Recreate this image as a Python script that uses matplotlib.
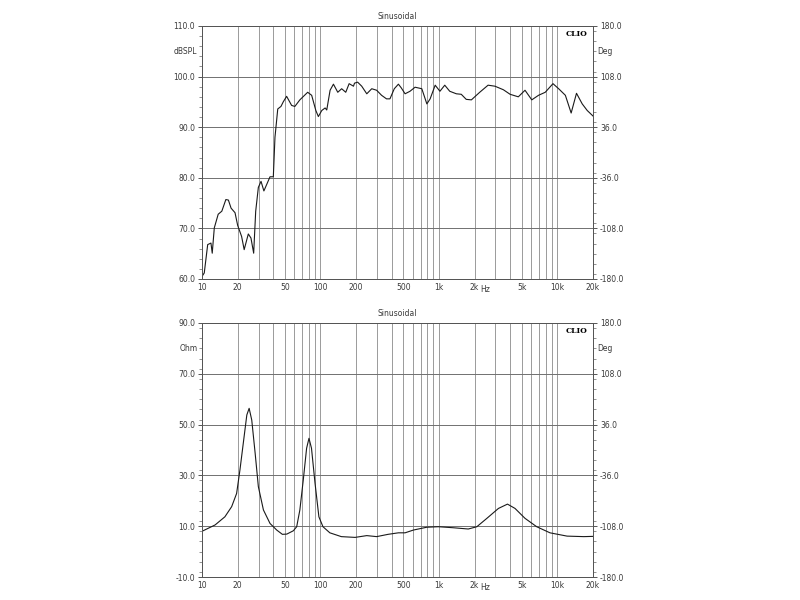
import matplotlib
matplotlib.use("Agg")
import matplotlib.pyplot as plt
from matplotlib.ticker import FixedLocator, NullFormatter, MultipleLocator
import matplotlib.transforms as mtransforms

# ---- data -----------------------------------------------------------------
spl_freq = [10, 10.45, 11.17, 11.9, 12.2, 12.7, 13.7, 14.7, 15.9, 16.7, 17.6, 19.0,
            20.0, 21.6, 22.7, 24.6, 25.9, 27.3, 28.4, 29.9, 31.5, 33.3, 35.2, 37.5,
            40.0, 41.3, 43.6, 46.4, 48.5, 51.8, 57.1, 60.8, 67, 78, 84.3, 91.4, 96,
            102.6, 109.5, 113, 120.6, 128.7, 140, 151, 163.5, 174.6, 190, 193.8, 206,
            223, 246, 271, 298, 328, 361, 386, 420, 455, 480, 518, 570, 629, 717, 791,
            843, 930, 1020, 1120, 1234, 1403, 1544, 1700, 1880, 2210, 2600, 2970, 3500,
            3990, 4680, 5330, 6080, 6930, 7900, 9180, 10250, 11680, 13070, 14500, 16210,
            17860, 20000]
spl_db = [60.5, 61.2, 66.8, 67.1, 65.1, 70.1, 72.8, 73.4, 75.7, 75.6, 74.0, 73.1,
          70.6, 68.4, 65.8, 68.9, 68.1, 65.1, 73.4, 78.1, 79.3, 77.4, 78.7, 80.2,
          80.2, 88.0, 93.6, 94.1, 95.0, 96.1, 94.3, 94.1, 95.4, 96.9, 96.3, 93.3, 92.1,
          93.3, 93.8, 93.4, 97.3, 98.5, 96.9, 97.6, 96.9, 98.6, 98.1, 98.7, 98.9,
          98.1, 96.6, 97.6, 97.3, 96.3, 95.6, 95.6, 97.6, 98.5, 97.8, 96.6, 97.1, 97.9, 97.6, 94.6,
          95.6, 98.3, 97.1, 98.3, 97.1, 96.6, 96.5, 95.5, 95.4, 96.9, 98.3, 98.1, 97.4,
          96.5, 96.0, 97.3, 95.4, 96.3, 96.9, 98.6, 97.6, 96.3, 92.8, 96.7, 94.6,
          93.3, 92.2]

imp_freq = [10, 12.9, 15.6, 17.8, 19.6, 20.9, 22.3, 23.9, 25, 26.3, 28.1, 29.9, 33,
            37.5, 42.7, 47.7, 52, 59, 63, 67, 71.6, 76.4, 80, 84, 90, 97, 105, 120,
            150, 196, 246, 298, 372, 455, 518, 610, 790, 990, 1320, 1770, 2090, 2540,
            3180, 3790, 4390, 5330, 6690, 8660, 12070, 16730, 20000]
imp_ohm = [8.0, 10.5, 13.7, 17.7, 22.9, 32.1, 42.6, 53.8, 56.4, 51.8, 38.7, 25.6, 16.4,
           11.1, 8.5, 6.8, 6.9, 8.2, 9.8, 16.4, 28.2, 40.7, 44.6, 40.7, 26.9, 13.7, 9.8,
           7.4, 5.9, 5.6, 6.3, 5.9, 6.8, 7.4, 7.4, 8.5, 9.6, 9.8, 9.4, 8.9, 9.8, 13.1,
           17.0, 18.7, 17.0, 13.1, 9.8, 7.4, 6.1, 5.9, 6.0]

x_tick_vals = [10, 20, 50, 100, 200, 500, 1000, 2000, 5000, 10000, 20000]
x_tick_labels = ["10", "20", "50", "100", "200", "500", "1k", "2k", "5k", "10k", "20k"]
grid_freqs = [m * 10 ** e for e in range(1, 5) for m in range(1, 10)] + [20000]

spl_ticks = [60, 70, 80, 90, 100, 110]
imp_ticks = [-10, 10, 30, 50, 70, 90]
deg_ticks = [-180, -108, -36, 36, 108, 180]

# ---- figure ---------------------------------------------------------------
plt.rcParams['font.family'] = ['DejaVu Sans']
fig = plt.figure(figsize=(8, 6), dpi=100)
FS = 5.5
TXT = "#3a3a3a"
ax_left, ax_w = 0.2525, 0.4888
panels = [
    dict(bottom=0.535, height=0.4217, ylim=(60, 110), ticks=spl_ticks, unit="dBSPL",
         unit_y=105, fx=spl_freq, fy=spl_db),
    dict(bottom=0.0383, height=0.4234, ylim=(-10, 90), ticks=imp_ticks, unit="Ohm",
         unit_y=80, fx=imp_freq, fy=imp_ohm),
]

for p in panels:
    ax = fig.add_axes([ax_left, p["bottom"], ax_w, p["height"]])
    ax.set_xscale("log")
    ax.set_xlim(10, 20000)
    ax.set_ylim(*p["ylim"])
    # grid
    for f in grid_freqs:
        if 10 < f < 20000:
            ax.axvline(f, color="#9a9a9a", lw=0.7, zorder=1)
    for t in p["ticks"][1:-1]:
        ax.axhline(t, color="#707070", lw=0.7, zorder=1)
    ax.plot(p["fx"], p["fy"], color="#1a1a1a", lw=0.8, zorder=3)

    ax.xaxis.set_major_locator(FixedLocator(x_tick_vals))
    ax.set_xticklabels(x_tick_labels)
    ax.xaxis.set_minor_locator(FixedLocator([]))
    ax.xaxis.set_minor_formatter(NullFormatter())
    ax.tick_params(axis="x", length=0, labelsize=FS, pad=3, colors=TXT)
    ax.set_yticks(p["ticks"])
    ax.set_yticklabels([f"{t:.1f}" for t in p["ticks"]])
    ax.yaxis.set_minor_locator(MultipleLocator((p["ticks"][1] - p["ticks"][0]) / 5))
    ax.tick_params(axis="y", which="major", length=3, width=0.6, labelsize=FS, pad=2,
                   colors=TXT)
    ax.tick_params(axis="y", which="minor", length=2, width=0.5, colors="#666666")
    for s in ax.spines.values():
        s.set_color("#555555")
        s.set_linewidth(0.7)

    ax.set_title("Sinusoidal", fontsize=FS, pad=5, color=TXT)
    ax.text(-0.012, p["unit_y"], p["unit"], transform=mtransforms.blended_transform_factory(
        ax.transAxes, ax.transData), ha="right", va="center", fontsize=FS, color=TXT)
    ax.text(0.985, 0.985, "CLIO", transform=ax.transAxes, ha="right", va="top",
            fontsize=FS, fontweight="bold", family="DejaVu Serif")
    ax.text(2450, -0.025, "Hz", transform=mtransforms.blended_transform_factory(
        ax.transData, ax.transAxes), ha="center", va="top", fontsize=FS, color=TXT)

    ax2 = ax.twinx()
    ax2.set_ylim(-180, 180)
    ax2.set_yticks(deg_ticks)
    ax2.set_yticklabels([f"{t:.1f}" for t in deg_ticks])
    ax2.yaxis.set_minor_locator(MultipleLocator(14.4))
    ax2.tick_params(axis="y", which="major", length=3, width=0.6, labelsize=FS, pad=2,
                    colors=TXT)
    ax2.tick_params(axis="y", which="minor", length=2, width=0.5, colors="#666666")
    for s in ax2.spines.values():
        s.set_color("#555555")
        s.set_linewidth(0.7)
    ax2.text(1.012, 144, "Deg", transform=mtransforms.blended_transform_factory(
        ax2.transAxes, ax2.transData), ha="left", va="center", fontsize=FS, color=TXT)

fig.savefig("out.png", dpi=100, facecolor="white")
